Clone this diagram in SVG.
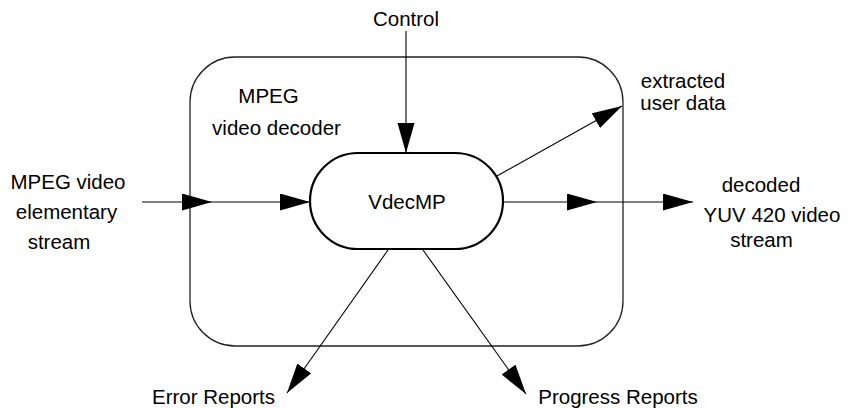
<svg xmlns="http://www.w3.org/2000/svg" width="853" height="408" viewBox="0 0 853 408">
<style>
text{font-family:"Liberation Sans",Arial,sans-serif;font-size:20.5px;fill:#000;text-anchor:middle}
.ln{fill:none;stroke:#000;stroke-width:1.1}
</style>
<defs>
<marker id="ah" markerUnits="userSpaceOnUse" markerWidth="31" markerHeight="18" refX="30" refY="8.5" orient="auto">
<path d="M0,0 L30,8.5 L0,17 Z" fill="#000"/>
</marker>
</defs>
<g id="decoder-boundary">
<rect x="190" y="57" width="433" height="289" rx="45" ry="45" fill="none" stroke="#222" stroke-width="1.3"/>
<text x="268.5" y="103">MPEG</text>
<text x="276.5" y="135">video decoder</text>
</g>
<g id="connectors">
<path class="ln" d="M142,202 L212,202 L310,202" marker-mid="url(#ah)" marker-end="url(#ah)"/>
<path class="ln" d="M503,202 L597,202 L693,202" marker-mid="url(#ah)" marker-end="url(#ah)"/>
<path class="ln" d="M406,31 L406,153" marker-end="url(#ah)"/>
<path class="ln" d="M497,176 L622,106" marker-end="url(#ah)"/>
<path class="ln" d="M388,250 L287,393" marker-end="url(#ah)"/>
<path class="ln" d="M423,250 L526,394" marker-end="url(#ah)"/>
</g>
<g id="vdecmp">
<rect x="310" y="153" width="193" height="96" rx="48" ry="48" fill="#fff" stroke="#000" stroke-width="2.2"/>
<text x="407" y="209">VdecMP</text>
</g>
<g id="control"><text x="406" y="26">Control</text></g>
<g id="input">
<text x="68" y="189">MPEG video</text>
<text x="66.5" y="219">elementary</text>
<text x="59" y="249">stream</text>
</g>
<g id="user-data">
<text x="683" y="88">extracted</text>
<text x="683" y="110">user data</text>
</g>
<g id="output">
<text x="761" y="192">decoded</text>
<text x="772" y="222">YUV 420 video</text>
<text x="761.5" y="247">stream</text>
</g>
<g id="error-reports"><text x="213.5" y="404">Error Reports</text></g>
<g id="progress-reports"><text x="618" y="404">Progress Reports</text></g>
</svg>
